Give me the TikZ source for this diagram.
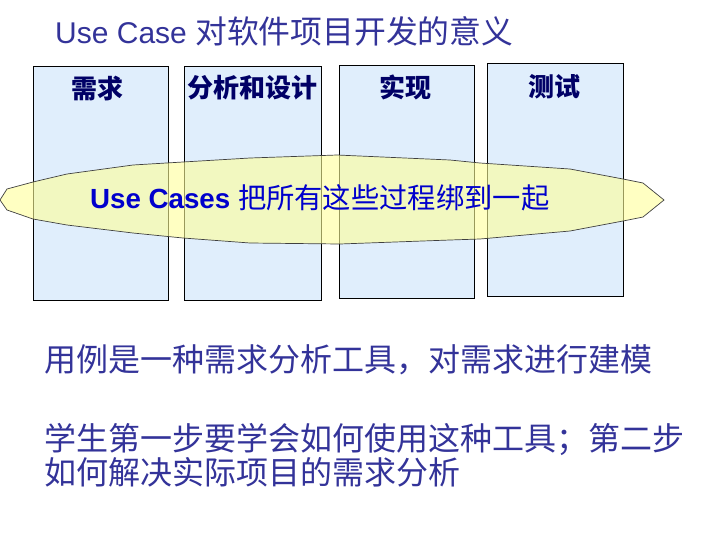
\documentclass[tikz,border=0pt]{standalone}
\usepackage{fontspec}
\setmainfont{Liberation Sans}
\newfontfamily\cjk{Noto Sans CJK SC}
\usetikzlibrary{positioning}
\definecolor{TitleBlue}{RGB}{51,51,153}
\definecolor{StageFill}{RGB}{224,238,252}
\definecolor{StageText}{RGB}{0,0,102}
\definecolor{LensFill}{RGB}{255,255,153}
\definecolor{LensText}{RGB}{0,0,204}

\begin{document}
\begin{tikzpicture}[x=1pt, y=-1pt,
  stage/.style={draw=black, fill=StageFill, line width=0.8pt, anchor=north west, inner sep=0pt, minimum height=234pt},
  stagelabel/.style={font=\fontsize{26}{26}\selectfont\cjk\bfseries, text=StageText, inner sep=0pt},
  lens/.style={draw=black!75, fill=LensFill, fill opacity=0.6, line width=0.7pt},
  lenstext/.style={font=\fontsize{27.7}{28}\selectfont, text=LensText, anchor=west, inner sep=0pt},
  bodytext/.style={font=\fontsize{32}{34}\selectfont\cjk, text=TitleBlue, anchor=west, align=left, inner sep=0pt},
]
\useasboundingbox (0,0) rectangle (702,539);

% === Title ===
\node[anchor=west, inner sep=0pt, font=\fontsize{30}{30}\selectfont, text=TitleBlue] (title) at (55,31)
  {Use Case {\cjk\fontsize{31.8}{31.8}\selectfont 对软件项目开发的意义}};

% === Stages ===
\node[stage, minimum width=135pt] (req) at (33,66) {};
\node[stage, minimum width=137pt] (ana) at (184,66) {};
\node[stage, minimum width=135pt, minimum height=233pt] (impl) at (339,65) {};
\node[stage, minimum width=136pt, minimum height=233pt] (test) at (487,63) {};

% === Lens across all stages ===
\draw[lens] (0,200) -- (7,189) -- (33,182) -- (67,174) -- (133,165) -- (183,162) -- (250,158)
  -- (337,155) -- (450,160) -- (480,163) -- (570,169) -- (623,179) -- (643,183) -- (664,200)
  -- (643,217) -- (623,221) -- (570,231) -- (480,239) -- (450,240) -- (340,244) -- (250,243)
  -- (183,238) -- (133,233) -- (67,225) -- (33,219) -- (7,210) -- cycle;

% stage labels
\node[stagelabel, below=10pt of req.north, xshift=-3pt] (reqlabel) {需求};
\node[stagelabel, below=9pt of ana.north] (analabel) {分析和设计};
\node[stagelabel, below=10pt of impl.north, xshift=-1pt] (impllabel) {实现};
\node[stagelabel, below=11pt of test.north, xshift=-1pt] (testlabel) {测试};

\node[lenstext] (bind) at (90,198)
  {\textbf{Use Cases} {\cjk\fontsize{28.3}{28.3}\selectfont 把所有这些过程绑到一起}};

% === Notes ===
\node[bodytext] (note1) at (44,360) {用例是一种需求分析工具，对需求进行建模};
\node[bodytext] (note2) at (44,455) {学生第一步要学会如何使用这种工具；第二步\\如何解决实际项目的需求分析};

\end{tikzpicture}
\end{document}
